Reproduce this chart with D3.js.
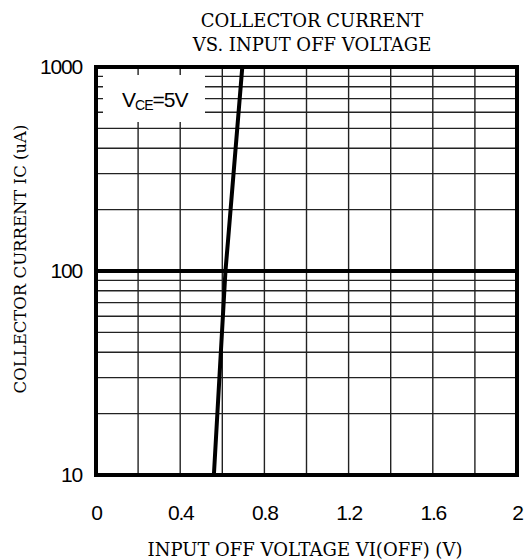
<!DOCTYPE html>
<html>
<head>
<meta charset="utf-8">
<script src="https://cdn.jsdelivr.net/npm/d3@7"></script>
<style>
  body { margin: 0; background: #fff; }
  .serif { font-family: "DejaVu Serif", "Liberation Serif", serif; fill: #000; }
  .tick text { font-family: "Liberation Sans", Arial, sans-serif; fill: #000; }
</style>
</head>
<body>
<div id="chart"></div>
<script>
var svgWidth = 527;
var svgHeight = 559;

var margin = { top: 67, right: 10, bottom: 84, left: 96 };
var chartWidth = svgWidth - margin.left - margin.right;
var chartHeight = svgHeight - margin.top - margin.bottom;

// tick labels
var xTicks = [0, 0.4, 0.8, 1.2, 1.6, 2];
var yTicks = [10, 100, 1000];

// curve, VCE = 5V
var vOff = [0.56, 0.615, 0.627, 0.695];
var icUA = [10, 100, 140, 1000];

var svg = d3.select("#chart")
  .append("svg")
  .attr("width", svgWidth)
  .attr("height", svgHeight);

var chartGroup = svg.append("g")
  .attr("transform", `translate(${margin.left}, ${margin.top})`);

var xScale = d3.scaleLinear().domain([0, 2]).range([0, chartWidth]);
var yScale = d3.scaleLog().domain([10, 1000]).range([chartHeight, 0]);

// grid
var xGrid = d3.range(1, 10).map(i => i * 0.2);
chartGroup.selectAll(".vgrid")
  .data(xGrid)
  .enter()
  .append("line")
  .attr("x1", d => xScale(d))
  .attr("x2", d => xScale(d))
  .attr("y1", 0)
  .attr("y2", chartHeight)
  .attr("stroke", "#222")
  .attr("stroke-width", 1.4);

var yGrid = yScale.ticks().filter(d => yTicks.indexOf(d) < 0);
chartGroup.selectAll(".hgrid")
  .data(yGrid)
  .enter()
  .append("line")
  .attr("x1", 0)
  .attr("x2", chartWidth)
  .attr("y1", d => yScale(d))
  .attr("y2", d => yScale(d))
  .attr("stroke", "#222")
  .attr("stroke-width", 1.4);

// legend box hides part of the grid
chartGroup.append("rect")
  .attr("x", 7)
  .attr("y", 8)
  .attr("width", 102)
  .attr("height", 47)
  .attr("fill", "#fff");

var legend = chartGroup.append("text")
  .attr("x", 26)
  .attr("y", 40)
  .style("font-family", "'Liberation Sans', Arial, sans-serif")
  .style("font-size", "21px")
  .style("letter-spacing", "-1px")
  .attr("fill", "#000");
legend.append("tspan").text("V");
legend.append("tspan").attr("dy", 3).style("font-size", "14px").text("CE");
legend.append("tspan").attr("dy", -3).text("=5V");

// 100 uA line
chartGroup.append("line")
  .attr("x1", 0)
  .attr("x2", chartWidth)
  .attr("y1", yScale(100))
  .attr("y2", yScale(100))
  .attr("stroke", "#000")
  .attr("stroke-width", 4);

// curve
var line = d3.line()
  .x((d, i) => xScale(d))
  .y((d, i) => yScale(icUA[i]));

chartGroup.append("path")
  .attr("d", line(vOff))
  .attr("fill", "none")
  .attr("stroke", "#000")
  .attr("stroke-width", 4);

// frame
chartGroup.append("rect")
  .attr("x", 0)
  .attr("y", 0)
  .attr("width", chartWidth)
  .attr("height", chartHeight)
  .attr("fill", "none")
  .attr("stroke", "#000")
  .attr("stroke-width", 4);

// axes
var bottomAxis = d3.axisBottom(xScale)
  .tickValues(xTicks)
  .tickSize(0)
  .tickPadding(30)
  .tickFormat(d => d3.format("")(d));
var leftAxis = d3.axisLeft(yScale)
  .tickValues(yTicks)
  .tickSize(0)
  .tickPadding(14)
  .tickFormat(d3.format("d"));

var xAxisG = chartGroup.append("g")
  .attr("transform", `translate(0, ${chartHeight})`)
  .call(bottomAxis);
var yAxisG = chartGroup.append("g")
  .call(leftAxis);

[xAxisG, yAxisG].forEach(g => {
  g.attr("font-family", null).attr("font-size", null);
  g.select(".domain").remove();
  g.selectAll("text")
    .style("font-size", "21px")
    .style("letter-spacing", "-1.2px");
});

// titles
svg.append("text")
  .attr("class", "serif")
  .attr("x", 312)
  .attr("y", 27)
  .attr("text-anchor", "middle")
  .style("font-size", "18px")
  .text("COLLECTOR CURRENT");
svg.append("text")
  .attr("class", "serif")
  .attr("x", 312)
  .attr("y", 51)
  .attr("text-anchor", "middle")
  .style("font-size", "18px")
  .text("VS. INPUT OFF VOLTAGE");

svg.append("text")
  .attr("class", "serif")
  .attr("x", 305)
  .attr("y", 556)
  .attr("text-anchor", "middle")
  .style("font-size", "18px")
  .text("INPUT OFF VOLTAGE VI(OFF) (V)");

svg.append("text")
  .attr("class", "serif")
  .attr("transform", "translate(26, 259) rotate(-90)")
  .attr("text-anchor", "middle")
  .style("font-size", "16.5px")
  .text("COLLECTOR CURRENT IC (uA)");
</script>
</body>
</html>
